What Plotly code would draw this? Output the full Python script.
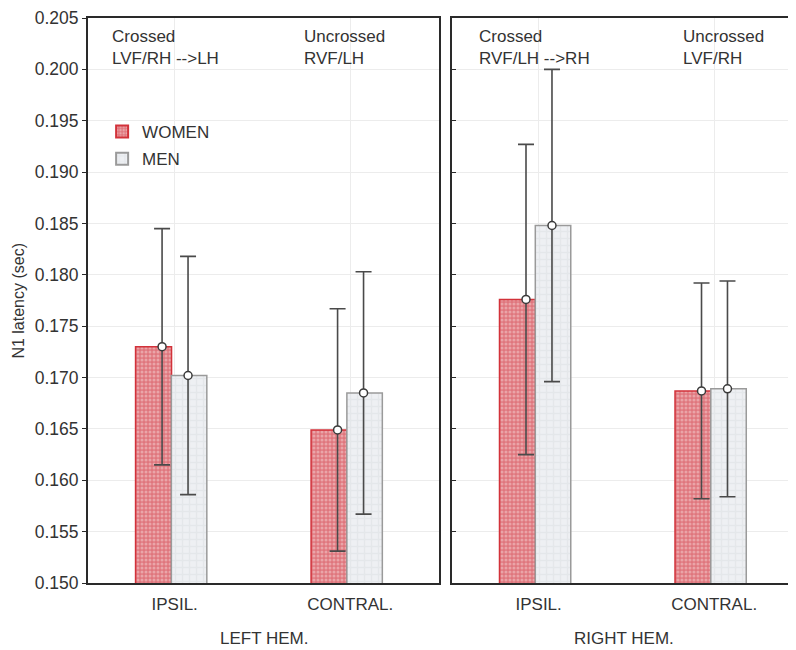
import plotly.graph_objects as go

# ---- data ----
categories = ["IPSIL.", "CONTRAL."]
cat_pos = [0, 1]
groups = ["LEFT HEM.", "RIGHT HEM."]

women_left = [0.1730, 0.1649]
women_left_err = [0.0115, 0.0118]
men_left = [0.1702, 0.1685]
men_left_err = [0.0116, 0.0118]

women_right = [0.1776, 0.1687]
women_right_err = [0.0151, 0.0105]
men_right = [0.1848, 0.1689]
men_right_err = [0.0152, 0.0105]

y_ticks = [0.150, 0.155, 0.160, 0.165, 0.170, 0.175, 0.180, 0.185, 0.190, 0.195, 0.200, 0.205]

top_notes_left = ["Crossed<br>LVF/RH -->LH", "Uncrossed<br>RVF/LH"]
top_notes_right = ["Crossed<br>RVF/LH -->RH", "Uncrossed<br>LVF/RH"]

FONT = "Liberation Sans, Arial, sans-serif"
TXT = "#333333"
W_FILL = dict(bgcolor="#df767d", fgcolor="#f6d3d6", shape=".", size=4, solidity=0.45)
M_FILL = dict(bgcolor="#eef0f3", fgcolor="#d9dde2", shape="+", size=7, solidity=0.35)
W_LINE = "#d2323a"
M_LINE = "#9a9a9a"

fig = go.Figure()

panels = [
    ("x", "y", women_left, women_left_err, men_left, men_left_err, True),
    ("x2", "y2", women_right, women_right_err, men_right, men_right_err, False),
]
for xa, ya, wv, we, mv, me, show in panels:
    fig.add_trace(go.Bar(
        x=cat_pos, y=wv, width=0.205, offset=-0.223, name="WOMEN",
        marker=dict(color="#df767d", pattern=W_FILL, line=dict(color=W_LINE, width=1.5)),
        xaxis=xa, yaxis=ya, showlegend=show, legendgroup="w"))
    fig.add_trace(go.Bar(
        x=cat_pos, y=mv, width=0.202, offset=-0.019, name="MEN",
        marker=dict(color="#eef0f3", pattern=M_FILL, line=dict(color=M_LINE, width=1.5)),
        xaxis=xa, yaxis=ya, showlegend=show, legendgroup="m"))
    for vals, errs, shift in ((wv, we, -0.072), (mv, me, 0.076)):
        fig.add_trace(go.Scatter(
            x=[c + shift for c in cat_pos], y=vals, mode="markers",
            marker=dict(symbol="circle", size=8, color="white",
                        line=dict(color="#3a3a3a", width=1.5)),
            error_y=dict(type="data", array=errs, visible=True, color="#4a4a4a",
                         thickness=1.6, width=8),
            xaxis=xa, yaxis=ya, showlegend=False, hoverinfo="skip"))

axis_common = dict(
    showline=True, linecolor="#2a2a2a", linewidth=2, mirror=True,
    showgrid=True, gridcolor="#ececec", gridwidth=1, zeroline=False,
    ticklabeloverflow="allow",
)
x_font = dict(family=FONT, size=17, color=TXT)
y_font = dict(family=FONT, size=17.5, color=TXT)

fig.update_layout(
    width=788, height=642,
    margin=dict(l=80, r=0, t=7, b=67),
    paper_bgcolor="white", plot_bgcolor="white",
    barmode="overlay",
    font=dict(family=FONT, size=17, color=TXT),
    xaxis=dict(domain=[0, 0.4972], range=[-0.494, 1.506], tickvals=cat_pos,
               ticktext=categories, ticks="", ticklabelstandoff=5,
               tickfont=x_font, **axis_common),
    xaxis2=dict(domain=[0.5155, 1.0], range=[-0.494, 1.455], tickvals=cat_pos,
                ticktext=categories, ticks="", ticklabelstandoff=5,
                tickfont=x_font, **axis_common),
    yaxis=dict(range=[0.150, 0.205], tickvals=y_ticks,
               ticktext=[f"{v:.3f}" for v in y_ticks], tickfont=y_font,
               ticks="outside", ticklen=4, tickcolor="#2a2a2a", **axis_common),
    yaxis2=dict(range=[0.150, 0.205], tickvals=y_ticks, showticklabels=False,
                anchor="x2", ticks="inside", ticklen=4, tickcolor="#2a2a2a", **axis_common),
    legend=dict(x=0.02, y=0.83, xanchor="left", yanchor="top",
                bgcolor="rgba(0,0,0,0)", font=dict(family=FONT, size=17, color=TXT),
                itemsizing="constant", tracegroupgap=2),
)

# top notes
for note, xd in zip(top_notes_left, [0.0625, 0.611]):
    fig.add_annotation(text=note, xref="x domain", yref="y domain", x=xd, y=0.987,
                       xanchor="left", yanchor="top", showarrow=False, align="left",
                       font=dict(family=FONT, size=17, color=TXT))
for note, xd in zip(top_notes_right, [0.073, 0.67]):
    fig.add_annotation(text=note, xref="x2 domain", yref="y2 domain", x=xd, y=0.987,
                       xanchor="left", yanchor="top", showarrow=False, align="left",
                       font=dict(family=FONT, size=17, color=TXT))

# group titles
fig.add_annotation(text=groups[0], xref="x domain", yref="paper", x=0.5, y=-0.099,
                   xanchor="center", yanchor="middle", showarrow=False,
                   font=dict(family=FONT, size=17, color=TXT))
fig.add_annotation(text=groups[1], xref="x domain", yref="paper", x=1.528, y=-0.099,
                   xanchor="center", yanchor="middle", showarrow=False,
                   font=dict(family=FONT, size=17, color=TXT))
fig.add_annotation(text="N1 latency (sec)", xref="paper", yref="paper", x=-0.099, y=0.5,
                   xanchor="center", yanchor="middle", textangle=-90, showarrow=False,
                   font=dict(family=FONT, size=16, color=TXT))

fig.write_html("out.html")
